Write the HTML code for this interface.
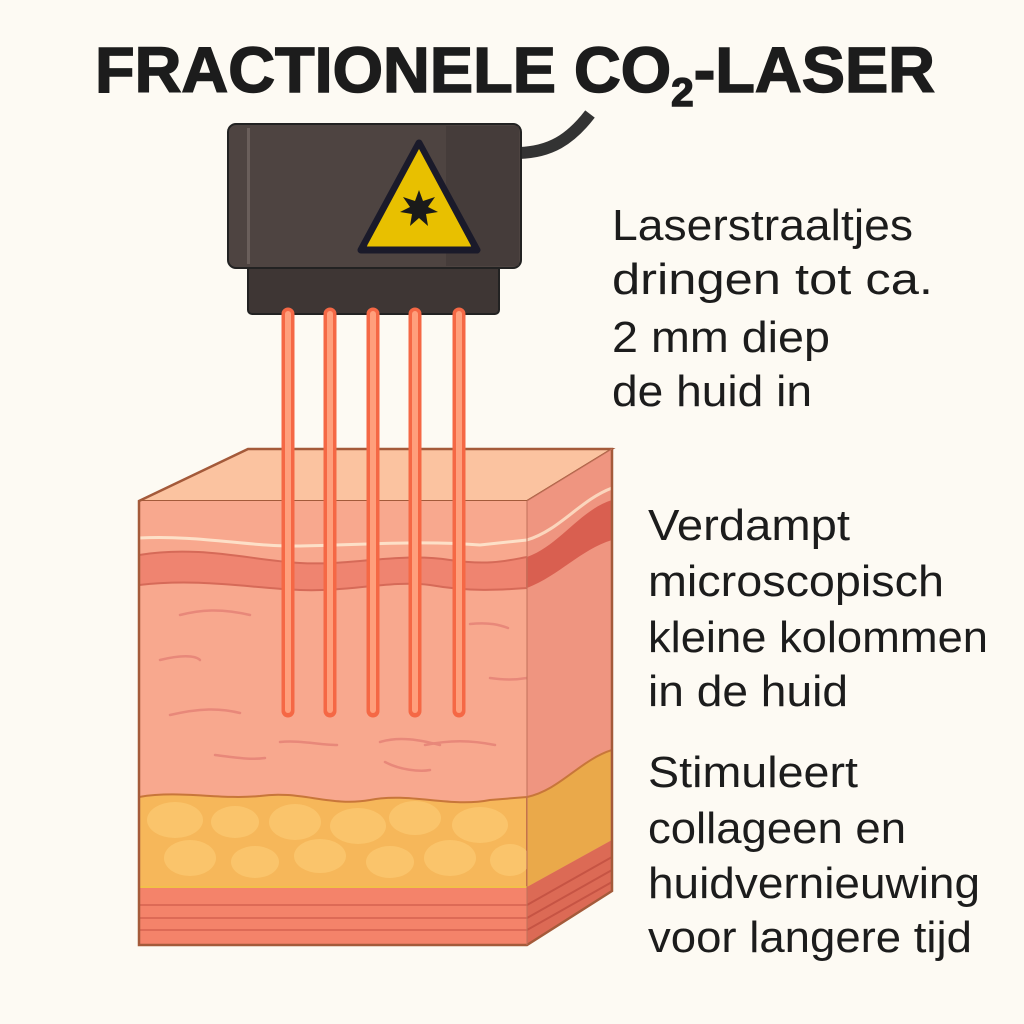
<!DOCTYPE html>
<html><head><meta charset="utf-8"><style>
html,body{margin:0;padding:0;background:#fdfaf3;}
svg{display:block}
text{font-family:"Liberation Sans",sans-serif;fill:#1c1c1c}
</style></head><body>
<svg width="1024" height="1024" viewBox="0 0 1024 1024" xmlns="http://www.w3.org/2000/svg">
<rect width="1024" height="1024" fill="#fdfaf3"/>
<!-- title -->
<text x="95" y="92" font-size="64" font-weight="bold" textLength="840" lengthAdjust="spacingAndGlyphs" stroke="#1c1c1c" stroke-width="1.5">FRACTIONELE CO<tspan font-size="40" dy="14">2</tspan><tspan dy="-14">-LASER</tspan></text>

<!-- cable -->
<path d="M519,153 C550,152 570,140 590,114" stroke="#333" stroke-width="12" fill="none"/>
<!-- device -->
<rect x="248" y="262" width="251" height="52" rx="4" fill="#3e3634" stroke="#222" stroke-width="2"/>
<rect x="228" y="124" width="293" height="144" rx="8" fill="#4e4441" stroke="#222" stroke-width="2"/>
<rect x="446" y="126" width="73" height="140" fill="#3f3735" opacity="0.6"/>
<rect x="247" y="128" width="3" height="136" fill="#6a5f5b"/>
<polygon points="419,143 477,250 361,250" fill="#e8c000" stroke="#1a1a2a" stroke-width="7" stroke-linejoin="round"/>
<polygon points="419,150 470,245 368,245" fill="none" stroke="#e8c000" stroke-width="1"/>
<polygon points="419,190 423,201 435,197 428,207 438,212 426,214 428,226 419,218 410,226 412,214 400,212 410,207 403,197 415,201" fill="#1a1a1a"/>

<!-- skin block -->
<defs>
<clipPath id="front"><rect x="139" y="501" width="388" height="444"/></clipPath>
<clipPath id="side"><polygon points="527,501 612,449 612,891 527,945"/></clipPath>
</defs>
<polygon points="139,501 248,449 612,449 527,501" fill="#fbc3a0" stroke="#a45a3a" stroke-width="2"/>
<g clip-path="url(#front)">
<rect x="139" y="501" width="388" height="444" fill="#f8a88e"/>
<path d="M139,555 C200,545 250,560 300,563 C350,566 400,552 450,560 C490,566 510,560 527,557 L527,588 C500,590 470,592 430,585 C390,580 350,592 300,590 C250,588 200,578 139,585Z" fill="#ef8470" stroke="#d66a58" stroke-width="2"/>
<path d="M139,538 C200,535 250,547 300,546 C360,545 420,540 480,545 L527,540" stroke="#fde0c8" stroke-width="3" fill="none"/>
<path d="M139,797 C180,790 220,800 260,796 C300,790 330,807 370,800 C410,792 450,808 490,800 L527,797 L527,887 L139,887Z" fill="#f6b75a" stroke="#c8763a" stroke-width="2"/>
<g fill="#fbc870" opacity="0.8">
<ellipse cx="175" cy="820" rx="28" ry="18"/><ellipse cx="235" cy="822" rx="24" ry="16"/><ellipse cx="295" cy="822" rx="26" ry="18"/><ellipse cx="358" cy="826" rx="28" ry="18"/><ellipse cx="415" cy="818" rx="26" ry="17"/><ellipse cx="480" cy="825" rx="28" ry="18"/>
<ellipse cx="190" cy="858" rx="26" ry="18"/><ellipse cx="255" cy="862" rx="24" ry="16"/><ellipse cx="320" cy="856" rx="26" ry="17"/><ellipse cx="390" cy="862" rx="24" ry="16"/><ellipse cx="450" cy="858" rx="26" ry="18"/><ellipse cx="510" cy="860" rx="20" ry="16"/>
</g>
<rect x="139" y="887" width="388" height="58" fill="#f4836a"/>
<path d="M139,905 L527,905 M139,918 L527,918 M139,930 L527,930" stroke="#dd6a56" stroke-width="2" fill="none"/>
<line x1="139" y1="887" x2="527" y2="887" stroke="#f2c04a" stroke-width="2"/>
<g stroke="#e8887a" stroke-width="2.5" fill="none" stroke-linecap="round">
<path d="M180,615 C200,610 220,608 250,615"/><path d="M160,660 C180,655 195,655 200,660"/><path d="M170,715 C200,708 220,708 240,713"/>
<path d="M280,742 C300,740 320,745 337,745"/>
<path d="M215,755 C240,758 250,760 265,758"/><path d="M380,742 C400,736 420,740 440,745"/><path d="M385,762 C400,770 420,772 430,770"/><path d="M425,745 C450,740 470,740 495,745"/><path d="M470,624 C490,622 500,625 508,628"/><path d="M490,678 C505,680 515,680 527,678"/>
</g>
</g>
<g clip-path="url(#side)">
<rect x="527" y="449" width="85" height="496" fill="#ef9580"/>
<path d="M527,557 C560,545 580,510 612,500 L612,540 C580,550 560,575 527,588Z" fill="#d95f50"/>
<path d="M527,540 C560,530 580,500 612,488" stroke="#fbd6bd" stroke-width="3" fill="none"/>
<path d="M527,797 C560,790 580,760 612,750 L612,840 L527,887Z" fill="#eaa94a"/>
<path d="M527,797 C560,790 580,760 612,750" stroke="#c8763a" stroke-width="2" fill="none"/>
<path d="M527,887 L612,840 L612,891 L527,945Z" fill="#dc6a55"/>
<path d="M527,905 L612,857 M527,918 L612,870 M527,930 L612,882" stroke="#c65444" stroke-width="2"/>
</g>
<polygon points="139,501 248,449 612,449 612,891 527,945 139,945" fill="none" stroke="#a45a3a" stroke-width="2.5"/>
<line x1="527" y1="501" x2="527" y2="945" stroke="#c0705a" stroke-width="1"/>
<line x1="527" y1="501" x2="612" y2="449" stroke="#c0705a" stroke-width="1"/>

<g stroke-linecap="round">
<g stroke="#f56845" stroke-width="13">
<line x1="288" y1="314" x2="288" y2="711"/><line x1="330" y1="314" x2="330" y2="711"/><line x1="373" y1="314" x2="373" y2="711"/><line x1="415" y1="314" x2="415" y2="711"/><line x1="459" y1="314" x2="459" y2="711"/>
</g>
<g stroke="#ff9f7c" stroke-width="6">
<line x1="288" y1="314" x2="288" y2="710"/><line x1="330" y1="314" x2="330" y2="710"/><line x1="373" y1="314" x2="373" y2="710"/><line x1="415" y1="314" x2="415" y2="710"/><line x1="459" y1="314" x2="459" y2="710"/>
</g>
</g>

<g font-size="44">
<text x="612" y="240" textLength="301" lengthAdjust="spacingAndGlyphs">Laserstraaltjes</text>
<text x="612" y="294" textLength="321" lengthAdjust="spacingAndGlyphs">dringen tot ca.</text>
<text x="612" y="352" textLength="218" lengthAdjust="spacingAndGlyphs">2 mm diep</text>
<text x="612" y="406" textLength="200" lengthAdjust="spacingAndGlyphs">de huid in</text>
<text x="648" y="540" textLength="202" lengthAdjust="spacingAndGlyphs">Verdampt</text>
<text x="648" y="596" textLength="296" lengthAdjust="spacingAndGlyphs">microscopisch</text>
<text x="648" y="652" textLength="340" lengthAdjust="spacingAndGlyphs">kleine kolommen</text>
<text x="648" y="706" textLength="200" lengthAdjust="spacingAndGlyphs">in de huid</text>
<text x="648" y="787" textLength="210" lengthAdjust="spacingAndGlyphs">Stimuleert</text>
<text x="648" y="843" textLength="258" lengthAdjust="spacingAndGlyphs">collageen en</text>
<text x="648" y="898" textLength="332" lengthAdjust="spacingAndGlyphs">huidvernieuwing</text>
<text x="648" y="952" textLength="324" lengthAdjust="spacingAndGlyphs">voor langere tijd</text>
</g>
</svg>
</body></html>
